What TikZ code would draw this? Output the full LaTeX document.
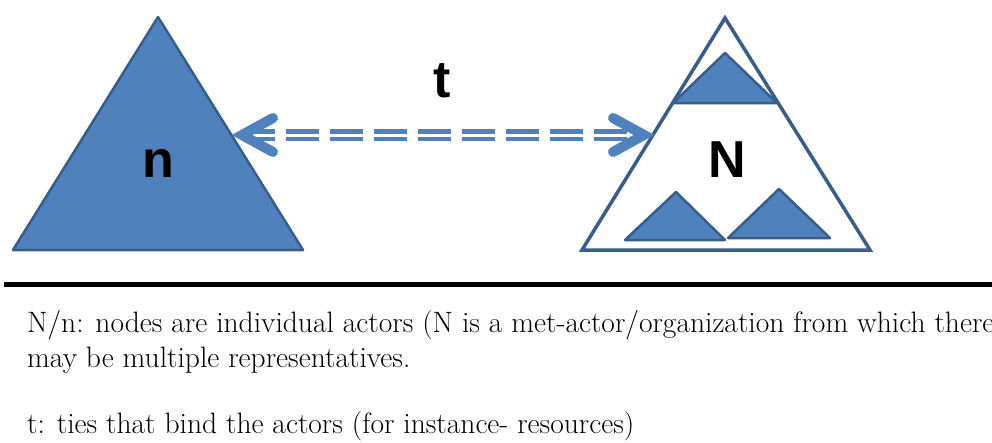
\documentclass[tikz,border=0pt]{standalone}
\usepackage{fontspec}
\newfontfamily\labelfont{Liberation Sans}
\definecolor{fillblue}{HTML}{4F81BD}
\definecolor{edgeblue}{HTML}{385D8A}
\begin{document}
\begin{tikzpicture}[x=1pt,y=-1pt,
  solidtri/.style={fill=fillblue, draw=edgeblue, line width=2.5pt, line join=round},
  outlinetri/.style={fill=white, draw=edgeblue, line width=3.5pt, line join=miter},
  tielink/.style={draw=fillblue, line width=4.5pt, double=white, double distance=3pt,
                  dash pattern=on 33pt off 11pt},
  chevron/.style={draw=fillblue, line width=10pt, line cap=round, line join=miter},
  biglabel/.style={inner sep=0pt, anchor=base, font=\labelfont\bfseries\fontsize{52}{60}\selectfont},
  legendline/.style={inner sep=0pt, anchor=base west, font=\rmfamily\fontsize{29.5}{35}\selectfont}]
\useasboundingbox (0,0) rectangle (992,442);

% legend below the rule
\coordinate (ruleL) at (4,284.5);
\coordinate (ruleR) at (992,284.5);
\draw[line width=5pt, black] (ruleL) -- (ruleR);
\node[legendline] (line1) at (27,332) {N/n: nodes are individual actors (N is a met-actor/organization from which there};
\node[legendline] (line2) at (27,367) {may be multiple representatives.};
\node[legendline] (line3) at (27,433) {t: ties that bind the actors (for instance- resources)};

% single actor n
\draw[solidtri] (158,17) -- (303,250) -- (13,250) -- cycle;
\node[biglabel] (nlabel) at (158,177) {n};

% organisation N with its members
\draw[outlinetri] (725,18) -- (870,250) -- (582,250) -- cycle;
\draw[solidtri] (725,53) -- (777,103) -- (673,103) -- cycle;
\draw[solidtri] (676,192) -- (725,240) -- (625,240) -- cycle;
\draw[solidtri] (779,189) -- (830,238) -- (728,238) -- cycle;
\node[biglabel] (Nlabel) at (727,177) {N};

% the tie t between them
\coordinate (leftapex) at (242,135);
\coordinate (rightapex) at (644,135);
\draw[tielink] (leftapex) -- (rightapex);
\draw[chevron] (273,118) -- (leftapex) -- (273,152);
\draw[chevron] (613,118) -- (rightapex) -- (613,152);
\node[biglabel] (tlabel) at (442,97) {t};
\end{tikzpicture}
\end{document}
